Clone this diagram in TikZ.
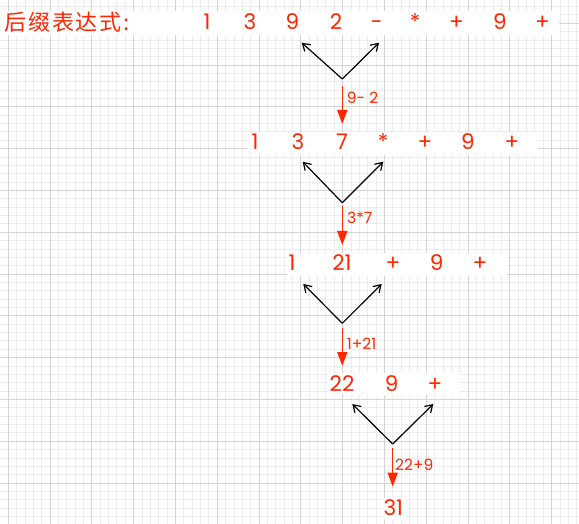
\documentclass[tikz,border=0pt]{standalone}
\usepackage{fontspec}
\setmainfont{Poppins}
\newfontfamily\cjkfont[LetterSpace=8]{Noto Sans CJK SC}
\usetikzlibrary{arrows.meta}
\definecolor{tokred}{RGB}{255,38,0}
\definecolor{minorgrid}{RGB}{236,236,236}
\definecolor{majorgrid}{RGB}{212,212,212}
\begin{document}
\begin{tikzpicture}[x=1pt,y=-1pt,
  tok/.style={text=tokred,font=\fontsize{21.5}{21.5}\selectfont,anchor=base,inner sep=0pt},
  lbl/.style={text=tokred,font=\fontsize{15.5}{15.5}\selectfont,anchor=base west,inner sep=0pt},
  chev/.style={black,line width=1.2pt,-{Straight Barb[length=7pt,width=9pt]}},
  calc/.style={tokred,line width=1.5pt,-{Triangle[length=14pt,width=10pt]}},
  strip/.style={fill=white,draw=none}]
\useasboundingbox (0,0) rectangle (579,524);
\fill[white] (0,0) rectangle (579,524);
% grid
\begin{scope}
\clip (0,0) rectangle (579,524);
\foreach \i in {-6,...,63} \draw[minorgrid,line width=0.8pt] ({50+8.36*\i},0) -- ({50+8.36*\i},524);
\foreach \j in {-8,...,55} \draw[minorgrid,line width=0.8pt] (0,{65+8.36*\j}) -- (579,{65+8.36*\j});
\foreach \i in {-1,...,12} \draw[majorgrid,line width=0.8pt] ({50+41.8*\i},0) -- ({50+41.8*\i},524);
\foreach \j in {-2,...,11} \draw[majorgrid,line width=0.8pt] (0,{65+41.8*\j}) -- (579,{65+41.8*\j});
\end{scope}
% white strips
\fill[strip] (0,11.5) rectangle (559,35);
\fill[strip] (248,132) rectangle (538,155);
\fill[strip] (287,253) rectangle (507,276);
\fill[strip] (328,373) rectangle (460,395);
\fill[strip] (383,498) rectangle (407,520);
% row 1
\node[text=tokred,font=\cjkfont\fontsize{22}{22}\selectfont,anchor=base west,inner sep=0pt] (title) at (4.5,30.5) {后缀表达式:};
\node[tok] (a1) at (207,30) {1};
\node[tok] (a2) at (250,30) {3};
\node[tok] (a3) at (292.5,30) {9};
\node[tok] (a4) at (336,30) {2};
\node[tok] (a5) at (376.7,30) {-};
\node[tok] (a6) at (415,30) {*};
\node[tok] (a7) at (456.5,30) {+};
\node[tok] (a8) at (500,30) {9};
\node[tok] (a9) at (542.5,30) {+};
% row 2
\node[tok] (b1) at (255,149.3) {1};
\node[tok] (b2) at (298,149.3) {3};
\node[tok] (b3) at (342,149.3) {7};
\node[tok] (b4) at (383,149.3) {*};
\node[tok] (b5) at (425,149.3) {+};
\node[tok] (b6) at (468,149.3) {9};
\node[tok] (b7) at (512,149.3) {+};
% row 3
\node[tok] (c1) at (292,270.7) {1};
\node[tok] (c2) at (342,270.7) {21};
\node[tok] (c3) at (393,270.7) {+};
\node[tok] (c4) at (436.7,270.7) {9};
\node[tok] (c5) at (480,270.7) {+};
% row 4
\node[tok] (d1) at (342,391.7) {22};
\node[tok] (d2) at (391.7,391.7) {9};
\node[tok] (d3) at (435,391.7) {+};
% row 5
\node[tok] (e1) at (393.3,515) {31};
% chevron coordinates
\coordinate (v1) at (342.3,79);   \coordinate (l1) at (301.7,42.7); \coordinate (q1) at (379,42.7);
\coordinate (v2) at (342.3,202.7); \coordinate (l2) at (302.7,161.7); \coordinate (q2) at (383.3,161.7);
\coordinate (v3) at (342.3,323.3); \coordinate (l3) at (303.3,284);  \coordinate (q3) at (381.7,284);
\coordinate (v4) at (392.7,444);  \coordinate (l4) at (352.3,404);  \coordinate (q4) at (433.3,404);
\draw[chev] (v1) -- (l1); \draw[chev] (v1) -- (q1);
\draw[chev] (v2) -- (l2); \draw[chev] (v2) -- (q2);
\draw[chev] (v3) -- (l3); \draw[chev] (v3) -- (q3);
\draw[chev] (v4) -- (l4); \draw[chev] (v4) -- (q4);
% red arrows
\coordinate (s1) at (342.3,86);    \coordinate (t1) at (342.3,124);
\coordinate (s2) at (342.3,206);   \coordinate (t2) at (342.3,245);
\coordinate (s3) at (342.3,327.7); \coordinate (t3) at (342.3,366);
\coordinate (s4) at (392.7,448.3); \coordinate (t4) at (392.7,486.7);
\draw[calc] (s1) -- (t1);
\draw[calc] (s2) -- (t2);
\draw[calc] (s3) -- (t3);
\draw[calc] (s4) -- (t4);
\node[lbl] (k1) at (346.7,103.3) {9- 2};
\node[lbl] (k2) at (347,224) {3*7};
\node[lbl] (k3) at (346.7,349) {1+21};
\node[lbl] (k4) at (395,470.7) {22+9};
\end{tikzpicture}
\end{document}
